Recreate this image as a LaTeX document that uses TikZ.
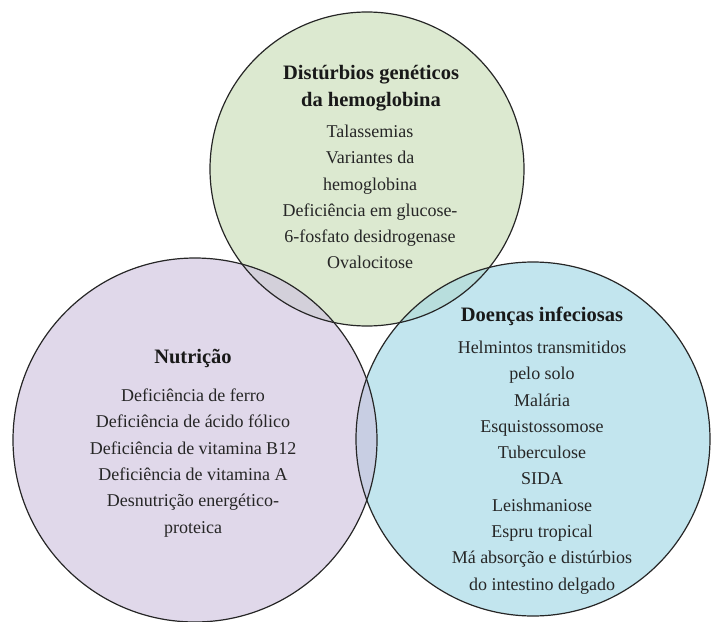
\documentclass[tikz,border=0pt]{standalone}
\usepackage{fontspec}
\setmainfont{Liberation Serif}
\definecolor{gfill}{HTML}{DCE9D0}
\definecolor{pfill}{HTML}{E0D8EA}
\definecolor{bfill}{HTML}{C2E5EE}
\definecolor{gpfill}{HTML}{D3D0DA}
\definecolor{pbfill}{HTML}{C8CEE3}
\definecolor{gbfill}{HTML}{B8DEDD}
\definecolor{edge}{HTML}{262626}
\begin{document}
\begin{tikzpicture}[x=1pt,y=-1pt,
  ring/.style={draw=edge,line width=1.2pt},
  ttl/.style={font=\fontsize{20.5}{27}\selectfont\bfseries,align=center,text=black!90,inner sep=0pt},
  body/.style={font=\fontsize{18}{26.3}\selectfont,align=center,text=black!85,inner sep=0pt}]
\useasboundingbox (0,0) rectangle (712,621);
\def\G{(367,169) circle[radius=157pt]}
\def\P{(195,440) circle[radius=182pt]}
\def\B{(533,439) circle[radius=177pt]}
\fill[gfill] \G;
\fill[pfill] \P;
\fill[bfill] \B;
\begin{scope}\clip \G; \fill[gpfill] \P; \end{scope}
\begin{scope}\clip \G; \fill[gbfill] \B; \end{scope}
\begin{scope}\clip \P; \fill[pbfill] \B; \end{scope}
\draw[ring] \G;
\draw[ring] \P;
\draw[ring] \B;
\node[ttl] (gt) at (371,88.5) {Distúrbios genéticos\\da hemoglobina};
\node[body] (gb) at (370,197) {Talassemias\\Variantes da\\hemoglobina\\Deficiência em glucose-\\6-fosfato desidrogenase\\Ovalocitose};
\node[ttl] (pt) at (193,358) {Nutrição};
\node[body] (pb) at (193,463) {Deficiência de ferro\\Deficiência de ácido fólico\\Deficiência de vitamina B12\\Deficiência de vitamina A\\Desnutrição energético-\\proteica};
\node[ttl] (bt) at (542,316) {Doenças infeciosas};
\node[body] (bb) at (542,467.5) {Helmintos transmitidos\\pelo solo\\Malária\\Esquistossomose\\Tuberculose\\SIDA\\Leishmaniose\\Espru tropical\\Má absorção e distúrbios\\do intestino delgado};
\end{tikzpicture}
\end{document}
